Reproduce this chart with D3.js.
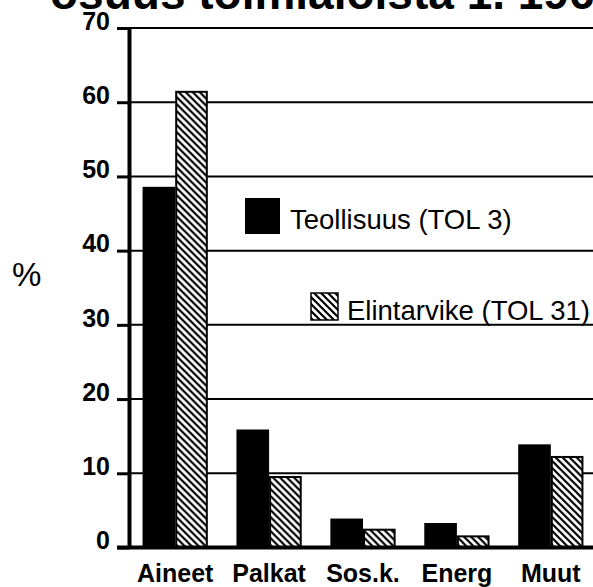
<!DOCTYPE html>
<html>
<head>
<meta charset="utf-8">
<script src="https://cdn.jsdelivr.net/npm/d3@7"></script>
<style>
  body { margin: 0; background: #fff; }
  svg { display: block; font-family: "Liberation Sans", Arial, Helvetica, sans-serif; }
</style>
</head>
<body>
<svg id="chart" width="593" height="587"></svg>
<script>
// data
var categories = ["Aineet", "Palkat", "Sos.k.", "Energ", "Muut"];
var seriesNames = ["Teollisuus (TOL 3)", "Elintarvike (TOL 31)"];
var teollisuus = [48.6, 15.9, 3.9, 3.3, 13.9];
var elintarvike = [61.4, 9.5, 2.4, 1.5, 12.2];
var yTicks = [0, 10, 20, 30, 40, 50, 60, 70];
var titleText = "osuus toimialoista 1. 1968";

var svg = d3.select("#chart");

// hatch for the second series
var defs = svg.append("defs");
var pat = defs.append("pattern")
  .attr("id", "hatch")
  .attr("patternUnits", "userSpaceOnUse")
  .attr("width", 7)
  .attr("height", 7);
pat.append("rect").attr("width", 7).attr("height", 7).attr("fill", "#fff");
pat.append("path")
  .attr("d", "M0,0L7,7M-2,5L2,9M5,-2L9,2")
  .attr("stroke", "#000")
  .attr("stroke-width", 2.2);

var y = d3.scaleLinear().domain([0, 70]).range([547.5, 28]);

var x0 = d3.scaleBand()
  .domain(categories)
  .range([128, 598])
  .paddingInner(0.305)
  .paddingOuter(0.155);

var x1 = d3.scaleBand()
  .domain([0, 1])
  .range([0, x0.bandwidth()]);

// title, cut at the top like the scan
svg.append("text")
  .attr("x", 50)
  .attr("y", 9)
  .attr("font-size", 46)
  .attr("font-weight", "bold")
  .text(titleText);

// grid lines
svg.append("g")
  .selectAll("line")
  .data(yTicks.filter(function (d) { return d > 0; }))
  .join("line")
  .attr("x1", 128)
  .attr("x2", 593)
  .attr("y1", function (d) { return y(d); })
  .attr("y2", function (d) { return y(d); })
  .attr("stroke", "#000")
  .attr("stroke-width", 2);

// bars
var rows = categories.map(function (c, i) {
  return { cat: c, values: [teollisuus[i], elintarvike[i]] };
});

var groups = svg.append("g")
  .selectAll("g")
  .data(rows)
  .join("g")
  .attr("transform", function (d) { return "translate(" + x0(d.cat) + ",0)"; });

groups.selectAll("rect")
  .data(function (d) { return d.values.map(function (v, k) { return { k: k, v: v }; }); })
  .join("rect")
  .attr("x", function (d) { return x1(d.k) + (d.k == 1 ? 1 : 0); })
  .attr("width", function (d) { return x1.bandwidth() - (d.k == 1 ? 2 : 0); })
  .attr("y", function (d) { return y(d.v); })
  .attr("height", function (d) { return y(0) - y(d.v); })
  .attr("fill", function (d) { return d.k == 0 ? "#000" : "url(#hatch)"; })
  .attr("stroke", "#000")
  .attr("stroke-width", function (d) { return d.k == 0 ? 0 : 2; });

// y axis
var yAxis = svg.append("g")
  .attr("transform", "translate(129,0)")
  .call(d3.axisLeft(y).tickValues(yTicks).tickSize(12).tickSizeOuter(0).tickPadding(7));

yAxis.select(".domain").attr("stroke-width", 4);
yAxis.selectAll(".tick line").attr("stroke-width", 3);
yAxis.selectAll(".tick text")
  .attr("font-size", 25)
  .attr("font-weight", "bold")
  .attr("font-family", "\"Liberation Sans\", Arial, sans-serif")
  .attr("fill", "#000")
  .attr("dy", "0.05em");

// base line
svg.append("line")
  .attr("x1", 117)
  .attr("x2", 593)
  .attr("y1", y(0))
  .attr("y2", y(0))
  .attr("stroke", "#000")
  .attr("stroke-width", 4);

// category labels
svg.append("g")
  .selectAll("text")
  .data(categories)
  .join("text")
  .attr("x", function (d) { return x0(d) + x0.bandwidth() / 2; })
  .attr("y", 582)
  .attr("text-anchor", "middle")
  .attr("font-size", 25)
  .attr("font-weight", "bold")
  .text(function (d) { return d; });

// unit
svg.append("text")
  .attr("x", 12)
  .attr("y", 286)
  .attr("font-size", 33)
  .text("%");

// legend
svg.append("rect")
  .attr("x", 245).attr("y", 198)
  .attr("width", 35).attr("height", 36)
  .attr("fill", "#000");
svg.append("text")
  .attr("x", 290).attr("y", 229)
  .attr("font-size", 27.5)
  .text(seriesNames[0]);

svg.append("rect")
  .attr("x", 311).attr("y", 293)
  .attr("width", 27).attr("height", 27)
  .attr("fill", "url(#hatch)")
  .attr("stroke", "#000")
  .attr("stroke-width", 1.5);
svg.append("text")
  .attr("x", 347).attr("y", 320)
  .attr("font-size", 27.5)
  .text(seriesNames[1]);
</script>
</body>
</html>
